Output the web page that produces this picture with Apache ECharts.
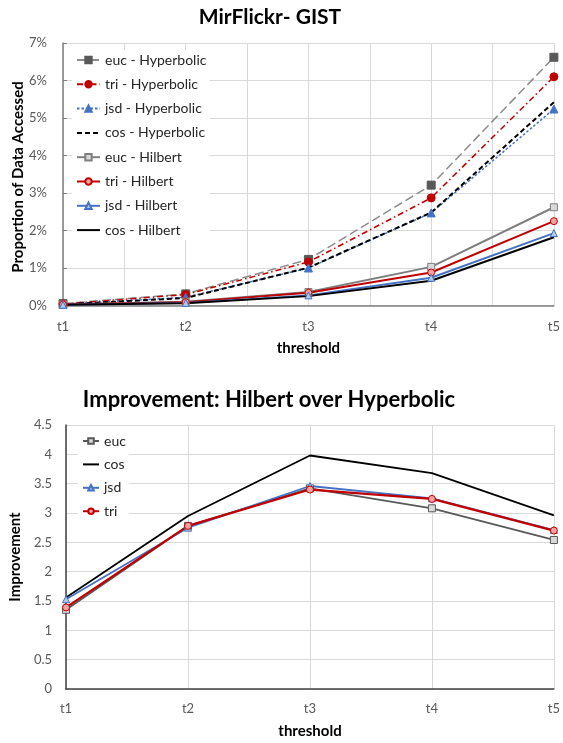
<!DOCTYPE html>
<html><head><meta charset="utf-8">
<script src="https://cdn.jsdelivr.net/npm/echarts@6/dist/echarts.min.js"></script>
<style>html,body{margin:0;padding:0;background:#fff}#c{width:563px;height:743px}</style>
</head><body><div id="c"></div>
<script>
// ---- data ----
const categories = ['t1', 't2', 't3', 't4', 't5'];
// Proportion of data accessed (%)
const eucHyperbolic = [0.05, 0.31, 1.23, 3.21, 6.62];
const triHyperbolic = [0.04, 0.29, 1.16, 2.87, 6.10];
const jsdHyperbolic = [0.03, 0.22, 1.00, 2.47, 5.24];
const cosHyperbolic = [0.03, 0.20, 1.01, 2.48, 5.42];
const eucHilbert = [0.03, 0.10, 0.36, 1.03, 2.62];
const triHilbert = [0.03, 0.09, 0.34, 0.88, 2.25];
const jsdHilbert = [0.02, 0.07, 0.27, 0.74, 1.93];
const cosHilbert = [0.02, 0.06, 0.25, 0.66, 1.82];
// Improvement: Hilbert over Hyperbolic
const eucImprovement = [1.35, 2.78, 3.42, 3.08, 2.54];
const cosImprovement = [1.56, 2.95, 3.98, 3.68, 2.96];
const jsdImprovement = [1.53, 2.75, 3.46, 3.25, 2.71];
const triImprovement = [1.39, 2.78, 3.40, 3.24, 2.70];
// axis ticks
const pctAxis = { min: 0, max: 7, interval: 1 };
const impAxis = { min: 0, max: 4.5, interval: 0.5 };

const FONT = 'Lato';
const toPairs = arr => arr.map((v, i) => [i, v]);
const catLabel = v => (Number.isInteger(v) && categories[v] !== undefined) ? categories[v] : '';
const CLEAR = 'rgba(0,0,0,0)';

function lineSeries(name, data, grid, o) {
  const hasSym = !!o.symbol;
  return {
    name, type: 'line', xAxisIndex: grid, yAxisIndex: grid,
    data: toPairs(data),
    symbol: o.symbol || 'circle',
    symbolSize: o.size || 7,
    showSymbol: hasSym,
    lineStyle: { color: o.line, width: o.width || 1.8, type: o.dash || 'solid' },
    itemStyle: hasSym
      ? { color: o.fill || o.line, borderColor: o.border || o.fill || o.line, borderWidth: 1 }
      : { color: CLEAR, borderColor: CLEAR, borderWidth: 0 },
    emphasis: { disabled: true },
    z: o.z || 2
  };
}

const chart = echarts.init(document.getElementById('c'), null, { renderer: 'canvas' });
const topNames = ['euc - Hyperbolic', 'tri - Hyperbolic', 'jsd - Hyperbolic', 'cos - Hyperbolic',
  'euc - Hilbert', 'tri - Hilbert', 'jsd - Hilbert', 'cos - Hilbert'];
const botNames = ['euc', 'cos', 'jsd', 'tri'];

const axisLabelStyle = { color: '#595959', fontSize: 13, fontFamily: FONT };
const nameStyle = { color: '#000', fontSize: 15, fontWeight: 'bold', fontFamily: FONT };

chart.setOption({
  animation: false,
  backgroundColor: '#fff',
  textStyle: { fontFamily: FONT },
  graphic: [
    { type: 'text', x: 18, y: 177, rotation: Math.PI / 2, z: 10,
      style: { text: 'Proportion of Data Accessed', align: 'center', verticalAlign: 'middle',
        fill: '#000', fontSize: 15, fontWeight: 'bold', fontFamily: FONT } }
  ],
  title: [
    { text: 'MirFlickr- GIST', left: 265, top: 2, textAlign: 'center',
      textStyle: { fontSize: 21, fontWeight: 'bold', color: '#000', fontFamily: FONT } },
    { text: 'Improvement: Hilbert over Hyperbolic', left: 264, top: 384, textAlign: 'center',
      textStyle: { fontSize: 22, fontWeight: 'bold', color: '#000', fontFamily: FONT } }
  ],
  grid: [
    { left: 63, right: 4, top: 43, height: 262.5, containLabel: false },
    { left: 63, right: 4, top: 425, height: 264, containLabel: false }
  ],
  legend: [
    { data: topNames, orient: 'vertical', left: 72, top: 50, itemWidth: 23, itemHeight: 8, itemGap: 10.3,
      backgroundColor: '#fff', padding: [3, 3, 3, 4],
      textStyle: { fontSize: 14, color: '#262626', fontFamily: FONT } },
    { data: botNames, orient: 'vertical', left: 78, top: 431, itemWidth: 16, itemHeight: 7, itemGap: 9.4,
      backgroundColor: '#fff', padding: [3, 3, 3, 4],
      textStyle: { fontSize: 14, color: '#262626', fontFamily: FONT } }
  ],
  xAxis: [
    { type: 'value', gridIndex: 0, min: 0, max: 4, interval: 0.5,
      name: 'threshold', nameLocation: 'middle', nameGap: 35, nameTextStyle: nameStyle,
      axisLine: { show: true, lineStyle: { color: '#7F7F7F', width: 1.5 } },
      axisTick: { show: false },
      axisLabel: Object.assign({ formatter: catLabel, margin: 15, showMaxLabel: true, showMinLabel: true }, axisLabelStyle),
      splitLine: { show: true, lineStyle: { color: '#D9D9D9', width: 1 } } },
    { type: 'value', gridIndex: 1, min: 0, max: 4, interval: 1,
      name: 'threshold', nameLocation: 'middle', nameGap: 35, nameTextStyle: nameStyle,
      axisLine: { show: true, lineStyle: { color: '#404040', width: 1.5 } },
      axisTick: { show: false },
      axisLabel: Object.assign({ formatter: catLabel, margin: 13, showMaxLabel: true, showMinLabel: true }, axisLabelStyle),
      splitLine: { show: true, lineStyle: { color: '#D9D9D9', width: 1 } } }
  ],
  yAxis: [
    { type: 'value', gridIndex: 0, min: pctAxis.min, max: pctAxis.max, interval: pctAxis.interval,
      axisLine: { show: true, lineStyle: { color: '#7F7F7F', width: 1.5 } },
      axisTick: { show: true, inside: true, length: 4, lineStyle: { color: '#7F7F7F' } },
      axisLabel: Object.assign({ formatter: v => v + '%', margin: 16 }, axisLabelStyle),
      splitLine: { show: true, lineStyle: { color: '#D9D9D9', width: 1 } } },
    { type: 'value', gridIndex: 1, min: impAxis.min, max: impAxis.max, interval: impAxis.interval,
      name: 'Improvement', nameLocation: 'middle', nameGap: 40, nameTextStyle: nameStyle,
      axisLine: { show: true, lineStyle: { color: '#404040', width: 1.5 } },
      axisTick: { show: false },
      axisLabel: Object.assign({ margin: 14 }, axisLabelStyle),
      splitLine: { show: true, lineStyle: { color: '#D9D9D9', width: 1 } } }
  ],
  series: [
    lineSeries('euc - Hyperbolic', eucHyperbolic, 0, { line: '#8C8C8C', fill: '#595959', symbol: 'rect', size: 8, dash: [9, 4], width: 1.5 }),
    lineSeries('tri - Hyperbolic', triHyperbolic, 0, { line: '#C00000', fill: '#C00000', symbol: 'circle', size: 8, dash: [6, 3, 1.5, 3], width: 1.5 }),
    lineSeries('jsd - Hyperbolic', jsdHyperbolic, 0, { line: '#4472C4', fill: '#4472C4', symbol: 'triangle', size: 8, dash: [2.5, 2], width: 1.5 }),
    lineSeries('cos - Hyperbolic', cosHyperbolic, 0, { line: '#000000', dash: [5, 3], width: 2 }),
    lineSeries('euc - Hilbert', eucHilbert, 0, { line: '#7F7F7F', fill: '#D9D9D9', border: '#7F7F7F', symbol: 'rect', size: 7, width: 2 }),
    lineSeries('tri - Hilbert', triHilbert, 0, { line: '#C00000', fill: '#F4A3A3', border: '#C00000', symbol: 'circle', size: 7, width: 2 }),
    lineSeries('jsd - Hilbert', jsdHilbert, 0, { line: '#4472C4', fill: '#B4C7E7', border: '#4472C4', symbol: 'triangle', size: 7, width: 2 }),
    lineSeries('cos - Hilbert', cosHilbert, 0, { line: '#000000', width: 2 }),
    lineSeries('euc', eucImprovement, 1, { line: '#595959', fill: '#D9D9D9', border: '#595959', symbol: 'rect', size: 7, width: 1.8 }),
    lineSeries('cos', cosImprovement, 1, { line: '#000000', width: 1.8 }),
    lineSeries('jsd', jsdImprovement, 1, { line: '#4472C4', fill: '#B4C7E7', border: '#4472C4', symbol: 'triangle', size: 7, width: 1.8 }),
    lineSeries('tri', triImprovement, 1, { line: '#C00000', fill: '#F4A3A3', border: '#C00000', symbol: 'circle', size: 7, width: 2.2 })
  ]
});
</script>
</body></html>
